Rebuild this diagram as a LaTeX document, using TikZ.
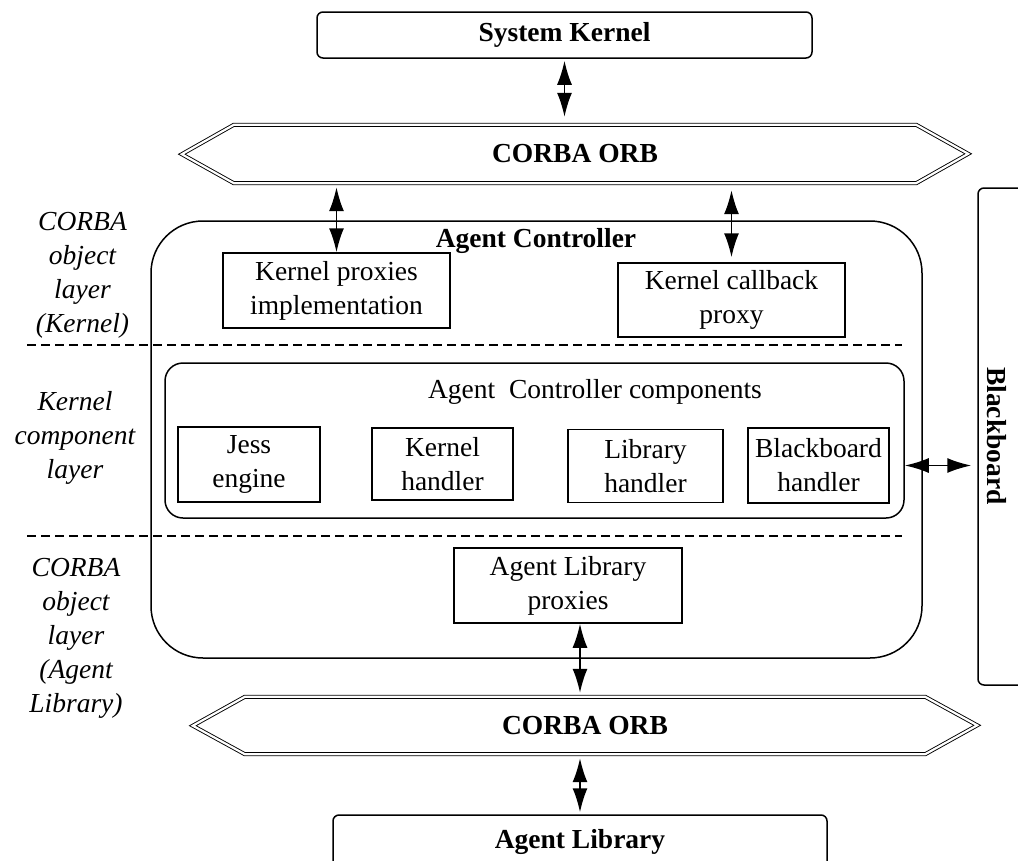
\documentclass[tikz,border=0pt]{standalone}
\usepackage{fontspec}
\setmainfont{Liberation Serif}
\usetikzlibrary{arrows.meta}
\begin{document}
\begin{tikzpicture}[x=1pt,y=-1pt,
  txt/.style={font=\fontsize{27.5}{34}\selectfont, align=center, inner sep=0pt},
  btxt/.style={font=\fontsize{27.5}{34}\selectfont\bfseries, align=center, inner sep=0pt},
  layertxt/.style={font=\fontsize{27.5}{34}\selectfont\itshape, align=center, inner sep=0pt},
  sqbox/.style={txt, draw, line width=1.5pt},
  endbox/.style={btxt, draw, line width=1.5pt, rounded corners=6pt},
  frame/.style={draw, line width=1.5pt},
  orbnode/.style={btxt},
  orbline/.style={draw, line width=0.9pt, double, double distance=2.2pt, line join=miter},
  dashline/.style={line width=1.5pt, dash pattern=on 9pt off 5pt},
  arr/.style={{Latex[length=24pt,width=15pt]}-{Latex[length=24pt,width=15pt]}, line width=1.6pt},
]
\useasboundingbox (0,0) rectangle (1018,860);

% top of the stack
\node[endbox, minimum width=495pt, minimum height=46pt] (sk) at (564.5,35) {System Kernel};

\node[orbnode, minimum width=682pt, minimum height=58pt] (orb1) at (575,154) {CORBA ORB};
\draw[orbline] (orb1.north west) -- (orb1.north east) -- ++(52,29) -- (orb1.south east)
  -- (orb1.south west) -- ++(-52,-29) -- cycle;

% agent controller
\node[frame, rounded corners=52pt, minimum width=771pt, minimum height=437pt] (ac) at (536.5,439.5) {};
\node[btxt] (actitle) at (536,241) {Agent Controller};

\node[sqbox, minimum width=227pt, minimum height=75pt] (kp) at (336.5,290.5) {Kernel proxies\\implementation};
\node[sqbox, minimum width=227pt, minimum height=74pt] (kcp) at (731.5,300) {Kernel callback\\proxy};

\node[frame, rounded corners=18pt, minimum width=739pt, minimum height=155pt] (comps) at (534.5,440.5) {};
\node[txt] (compstitle) at (595,392) {Agent\ \ Controller components};

\node[sqbox, minimum width=142pt, minimum height=75pt] (jess) at (249,464.5) {Jess\\engine};
\node[sqbox, minimum width=141pt, minimum height=72pt] (kh) at (442.5,464) {Kernel\\handler};
\node[sqbox, minimum width=155pt, minimum height=73pt] (lh) at (645.5,466) {Library\\handler};
\node[sqbox, minimum width=141pt, minimum height=75pt] (bbh) at (818.5,465.5) {Blackboard\\handler};

\node[sqbox, minimum width=228pt, minimum height=75pt] (alp) at (568,585.5) {Agent Library\\proxies};

% blackboard on the right
\node[frame, rounded corners=6pt, minimum width=52pt, minimum height=497pt] (bb) at (1004,436.5) {};
\node[btxt, rotate=-90] (bbtext) at (997,436) {Blackboard};

% bottom of the stack
\node[orbnode, minimum width=680pt, minimum height=57pt] (orb2) at (585,725.5) {CORBA ORB};
\draw[orbline] (orb2.north west) -- (orb2.north east) -- ++(52,28.5) -- (orb2.south east)
  -- (orb2.south west) -- ++(-52,-28.5) -- cycle;

\node[endbox, minimum width=494pt, minimum height=54pt] (al) at (580,842) {Agent Library};

% layer separators
\draw[dashline] (27,345) -- (902,345);
\draw[dashline] (27,536) -- (902,536);

% layer labels
\node[layertxt] (lk) at (82.5,275) {CORBA\\object\\layer\\(Kernel)};
\node[layertxt] (lc) at (75,438) {Kernel\\component\\layer};
\node[layertxt] (ll) at (76,638) {CORBA\\object\\layer\\(Agent\\Library)};

% connectors
\draw[arr, shorten <=2pt, shorten >=8pt] (sk.south) -- (sk.south |- orb1.north);
\draw[arr, shorten <=4pt] (kp.north |- orb1.south) -- (kp.north);
\draw[arr, shorten <=7pt, shorten >=5pt] (kcp.north |- orb1.south) -- (kcp.north);
\draw[arr, shorten >=6pt] (bbh.east -| comps.east) -- (bbh.east -| bb.west);
\draw[arr, shorten >=4pt] (al.north |- alp.south) -- (al.north |- orb2.north);
\draw[arr, shorten <=4pt, shorten >=2pt] (al.north |- orb2.south) -- (al.north);
\end{tikzpicture}
\end{document}
